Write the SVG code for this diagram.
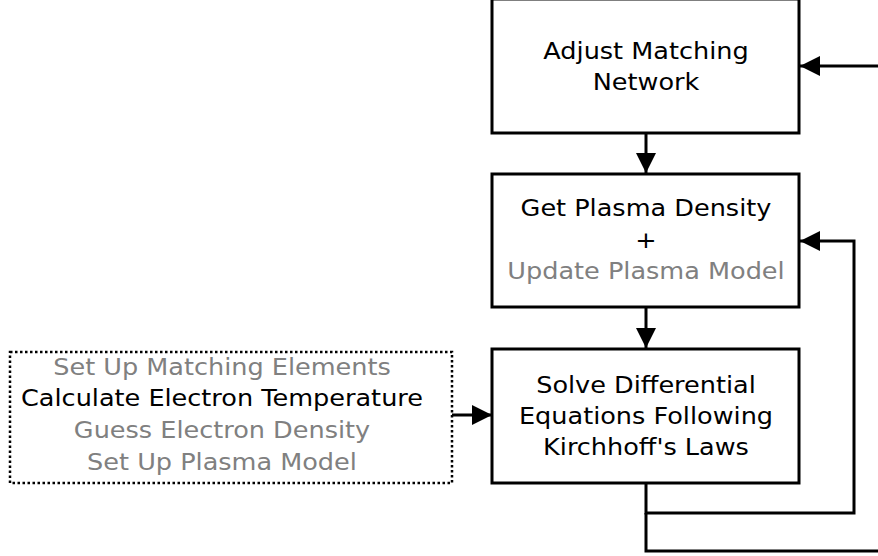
<svg xmlns="http://www.w3.org/2000/svg" width="878" height="556" viewBox="0 0 878 556">
<defs>
<style>
.box{fill:#fff;stroke:#000;stroke-width:3}
.dot{fill:#fff;stroke:#000;stroke-width:2.5;stroke-dasharray:2.5 2.5}
.t{font-family:"DejaVu Sans",sans-serif;font-size:23.5px;text-anchor:middle;fill:#000}
.g{fill:#808080}
.c{fill:none;stroke:#000;stroke-width:3}
</style>
<marker id="ah" viewBox="0 0 20 20" refX="20" refY="10" markerWidth="20" markerHeight="20" markerUnits="userSpaceOnUse" orient="auto">
<path d="M0,0 L20,10 L0,20 Z" fill="#000"/>
</marker>
</defs>
<rect width="878" height="556" fill="#fff"/>
<g id="connectors">
<line class="c" x1="878" y1="66" x2="800" y2="66" marker-end="url(#ah)"/>
<line class="c" x1="646" y1="133" x2="646" y2="173" marker-end="url(#ah)"/>
<line class="c" x1="646" y1="307" x2="646" y2="348" marker-end="url(#ah)"/>
<line class="c" x1="452" y1="415" x2="492" y2="415" marker-end="url(#ah)"/>
<polyline class="c" points="646,483 646,513 854,513 854,241 800,241" marker-end="url(#ah)"/>
<polyline class="c" points="646,513 646,551 880,551"/>
</g>
<g id="adjust">
<rect class="box" x="492" y="-1" width="307" height="134"/>
<g transform="matrix(1.087 0 0 1 -56.2 0)">
<text class="t" x="646" y="59.5">Adjust Matching</text>
<text class="t" x="646" y="90.5">Network</text>
</g>
</g>
<g id="density">
<rect class="box" x="492" y="174" width="307" height="133"/>
<g transform="matrix(1.087 0 0 1 -56.2 0)">
<text class="t" x="646" y="216.5">Get Plasma Density</text>
<text class="t" x="646" y="248">+</text>
<text class="t g" x="646" y="279.5">Update Plasma Model</text>
</g>
</g>
<g id="solve">
<rect class="box" x="492" y="349" width="307" height="134"/>
<g transform="matrix(1.087 0 0 1 -56.2 0)">
<text class="t" x="646" y="393.5">Solve Differential</text>
<text class="t" x="646" y="424.5">Equations Following</text>
<text class="t" x="646" y="455.5">Kirchhoff's Laws</text>
</g>
</g>
<g id="setup">
<rect class="dot" x="10" y="352" width="442" height="131"/>
<g transform="matrix(1.087 0 0 1 -19.3 0)">
<text class="t g" x="222" y="375">Set Up Matching Elements</text>
<text class="t" x="222" y="406.5">Calculate Electron Temperature</text>
<text class="t g" x="222" y="438">Guess Electron Density</text>
<text class="t g" x="222" y="470">Set Up Plasma Model</text>
</g>
</g>
</svg>
